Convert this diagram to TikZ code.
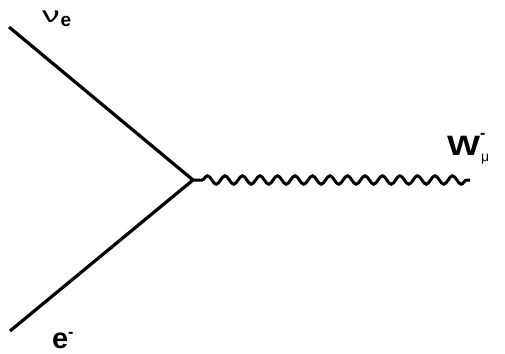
\documentclass[tikz,border=0pt]{standalone}
\usepackage{fontspec}
\setmainfont{Liberation Sans}
\usetikzlibrary{decorations.pathmorphing}
\begin{document}
\begin{tikzpicture}[x=1pt,y=-1pt,
  fermion/.style={line width=3.2pt},
  boson/.style={line width=3pt,decorate,
    decoration={snake,segment length=17.5pt,amplitude=4.2pt,pre length=9pt,post length=2pt}},
  lbl/.style={inner sep=0pt,outer sep=0pt,anchor=base west}]
\useasboundingbox (0,0) rectangle (505,353);
\fill[white] (0,0) rectangle (505,353);
\coordinate (v) at (193,180);
\coordinate (nu) at (9,27);
\coordinate (el) at (10,331);
\coordinate (w) at (470,180);
\draw[fermion] (nu) -- (v);
\draw[fermion] (el) -- (v);
\draw[boson] (v) -- (w);
\node[lbl] (nulabel) at (42,23) {\scalebox{1.6}[1]{\fontsize{22}{22}\selectfont ν}\hspace{1pt}\raisebox{-4pt}{\fontsize{19}{19}\selectfont\bfseries e}};
\node[lbl] (elabel) at (52,348) {\fontsize{29}{29}\selectfont\bfseries e\raisebox{11pt}{\fontsize{16}{16}\selectfont -}};
\node[lbl] (wlabel) at (447,155) {\scalebox{1.25}[1]{\fontsize{28}{28}\selectfont\bfseries W}\rlap{\raisebox{17pt}{\fontsize{16}{16}\selectfont\bfseries -}}\hspace{1pt}\raisebox{-6pt}{\fontsize{14}{14}\selectfont μ}};
\end{tikzpicture}
\end{document}
